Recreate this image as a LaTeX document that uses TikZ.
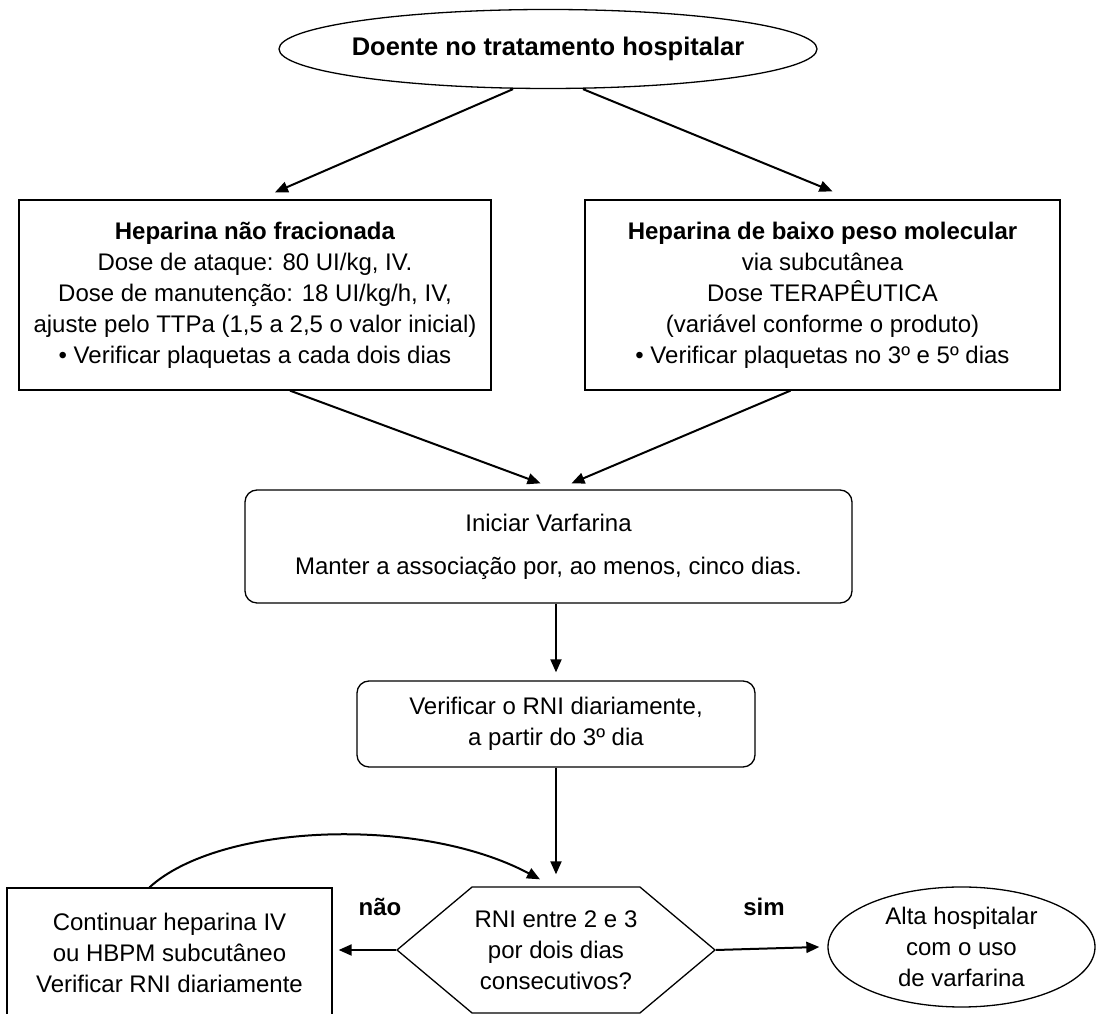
\documentclass[tikz,border=0pt]{standalone}
\usepackage{fontspec}
\setmainfont{Liberation Sans}
\usepackage{tikz}
\usetikzlibrary{arrows.meta, positioning, calc, shapes.geometric, shapes.symbols}

\begin{document}
\begin{tikzpicture}[x=1pt, y=1pt,
    font=\fontsize{24}{31}\selectfont,
    box/.style={draw, line width=1.3pt, align=center, inner sep=0pt},
    roundbox/.style={box, rounded corners=12pt},
    ovalbox/.style={box, ellipse},
    flow/.style={-{Triangle[length=13pt, width=11pt]}, line width=2pt},
    answer/.style={font=\fontsize{24}{31}\selectfont\bfseries}]
  \clip (0, 0) rectangle (1096, 1014);

  % ── Start ─────────────────────────────────────────────────────────────────
  \node[ovalbox, inner xsep=-6pt, minimum width=533pt, minimum height=79pt,
        font=\fontsize{25.5}{31}\selectfont\bfseries] (doente) at (548, 965)
    {Doente no tratamento hospitalar};

  % ── Two heparin options ───────────────────────────────────────────────────
  \node[box, minimum width=472pt, minimum height=190pt] (hnf) at (255, 719)
    {\textbf{Heparina não fracionada}\\
     Dose de ataque: 80 UI/kg, IV.\\
     Dose de manutenção: 18 UI/kg/h, IV,\\
     ajuste pelo TTPa (1,5 a 2,5 o valor inicial)\\
     \textbullet{} Verificar plaquetas a cada dois dias};
  \node[box, minimum width=475pt, minimum height=190pt] (hbpm) at (822.5, 719)
    {\textbf{Heparina de baixo peso molecular}\\
     via subcutânea\\
     Dose TERAPÊUTICA\\
     (variável conforme o produto)\\
     \textbullet{} Verificar plaquetas no 3º e 5º dias};

  % ── Warfarin steps ────────────────────────────────────────────────────────
  \node[roundbox, minimum width=607pt, minimum height=113pt] (varfarina) at (548.5, 467.5)
    {Iniciar Varfarina\\[12pt]
     Manter a associação por, ao menos, cinco dias.};
  \node[roundbox, minimum width=398pt, minimum height=86pt] (verifrni) at (556, 290)
    {Verificar o RNI diariamente,\\ a partir do 3º dia};

  % ── Decision and outcomes ─────────────────────────────────────────────────
  \node[box, signal, signal to=west and east, signal pointer angle=80,
        minimum width=318pt, minimum height=126pt] (rniok) at (556, 64)
    {RNI entre 2 e 3\\ por dois dias\\ consecutivos?};
  \node[box, minimum width=325pt, minimum height=130pt] (continuar) at (169.5, 61)
    {Continuar heparina IV\\ ou HBPM subcutâneo\\ Verificar RNI diariamente};
  \node[ovalbox, minimum width=267pt, minimum height=120pt] (alta) at (961.5, 67)
    {Alta hospitalar\\ com o uso\\ de varfarina};

  \node[answer] (nao) at (380, 107) {não};
  \node[answer] (sim) at (764, 107) {sim};

  % ── Arrows ────────────────────────────────────────────────────────────────
  \draw[flow] ([xshift=-35pt]doente.south) -- ([xshift=20pt, yshift=7pt]hnf.north);
  \draw[flow] ([xshift=35pt]doente.south) -- ([xshift=10pt, yshift=8pt]hbpm.north);
  \draw[flow] ([xshift=35pt]hnf.south) -- ([xshift=-8pt, yshift=6pt]varfarina.north);
  \draw[flow] ([xshift=-32pt]hbpm.south) -- ([xshift=23pt, yshift=6pt]varfarina.north);
  \draw[flow] (varfarina.south -| verifrni.north) -- ([yshift=8pt]verifrni.north);
  \draw[flow] (verifrni.south) -- ([yshift=12pt]rniok.north);
  \draw[flow] (rniok.west) -- ([xshift=6pt]continuar.east |- rniok.west);
  \draw[flow] (rniok.east) -- ([xshift=-8pt]alta.west);

  % loop back from the left box
  \draw[flow] ([xshift=-20pt]continuar.north)
    .. controls +(70pt, 64pt) and +(-120pt, 64pt) .. ([xshift=-16pt, yshift=7pt]rniok.north);
\end{tikzpicture}
\end{document}
